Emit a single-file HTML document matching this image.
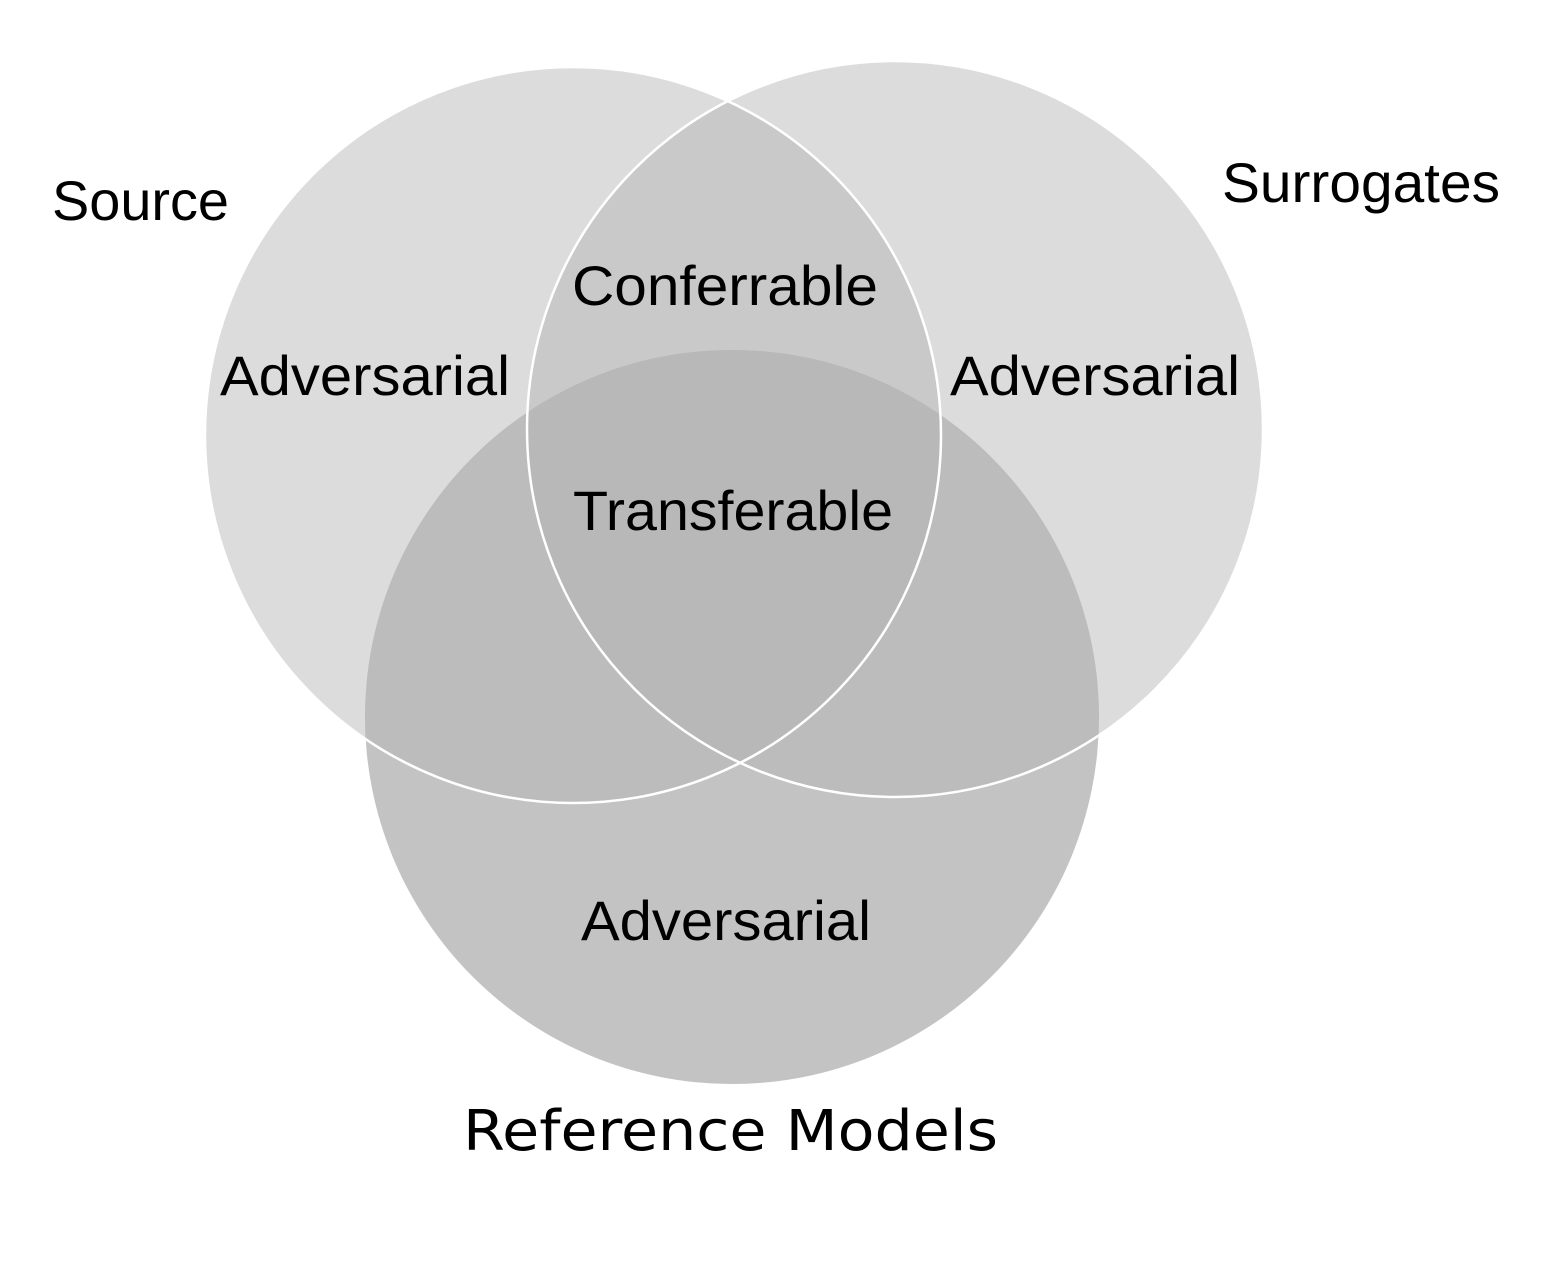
<!DOCTYPE html>
<html><head><meta charset="utf-8"><style>html,body{margin:0;padding:0;background:#fff}svg{display:block}</style></head>
<body>
<svg width="1546" height="1264" viewBox="0 0 1546 1264" xmlns="http://www.w3.org/2000/svg">
<defs>
<clipPath id="k1"><circle cx="573" cy="435" r="368"/></clipPath>
<clipPath id="k2"><circle cx="895" cy="429" r="368"/></clipPath>
</defs>
<rect width="1546" height="1264" fill="#fff"/>
<circle cx="573" cy="435" r="368" fill="#dcdcdc"/>
<circle cx="895" cy="429" r="368" fill="#dcdcdc"/>
<circle cx="732" cy="717" r="367" fill="#c3c3c3"/>
<g clip-path="url(#k1)">
<circle cx="895" cy="429" r="368" fill="#c9c9c9"/>
<circle cx="732" cy="717" r="367" fill="#bcbcbc"/>
</g>
<g clip-path="url(#k2)">
<circle cx="732" cy="717" r="367" fill="#bcbcbc"/>
<g clip-path="url(#k1)"><circle cx="732" cy="717" r="367" fill="#b8b8b8"/></g>
</g>
<circle cx="573" cy="435" r="368" fill="none" stroke="#fff" stroke-width="2.5"/>
<circle cx="895" cy="429" r="368" fill="none" stroke="#fff" stroke-width="2.5"/>
<g font-family="Liberation Sans, sans-serif" font-size="56" fill="#000">
<text x="52" y="220" textLength="177" lengthAdjust="spacingAndGlyphs">Source</text>
<text x="1222" y="202" textLength="278" lengthAdjust="spacingAndGlyphs">Surrogates</text>
<text x="220" y="395" textLength="290" lengthAdjust="spacingAndGlyphs">Adversarial</text>
<text x="572" y="305" textLength="306" lengthAdjust="spacingAndGlyphs">Conferrable</text>
<text x="950" y="395" textLength="290" lengthAdjust="spacingAndGlyphs">Adversarial</text>
<text x="573" y="530" textLength="320" lengthAdjust="spacingAndGlyphs">Transferable</text>
<text x="581" y="940" textLength="290" lengthAdjust="spacingAndGlyphs">Adversarial</text>
</g>
<text x="463" y="1150" font-family="DejaVu Sans, sans-serif" font-size="56" fill="#000" textLength="535" lengthAdjust="spacingAndGlyphs">Reference Models</text>
</svg>
</body></html>
